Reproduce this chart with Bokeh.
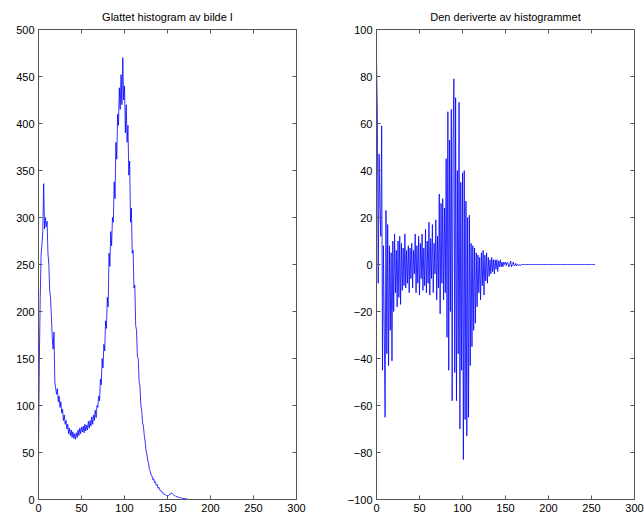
from bokeh.plotting import figure
from bokeh.layouts import row
from bokeh.models import LinearAxis, Range1d, FixedTicker, Title
from bokeh.embed import file_html
from bokeh.resources import INLINE

# ---------------- data ----------------
hist_head = [
    55, 150, 215, 260, 272, 285, 336, 288, 300, 290,
    296, 262, 250, 222, 215, 195, 172, 160, 178, 125,
    118, 112, 118, 104, 110, 98, 104, 92, 96, 84,
    90, 80, 84, 75, 80, 70, 76, 68, 74, 66,
    72, 65, 70, 64, 71, 66, 74, 68, 76, 70,
    77, 72, 78, 71, 80, 73, 79, 74, 83, 76,
    84, 78, 88, 80, 90, 84, 95, 87, 100, 98,
    110, 105, 128, 122, 150, 140, 165, 158, 190, 182,
    215, 205, 262, 248, 285, 270, 300, 295, 338, 320,
    380, 362, 410, 398, 438, 415, 452, 420, 470, 425,
    440, 390, 420, 380, 398, 345, 360, 295, 310, 262,
    265, 225, 228, 185, 180, 152, 150, 125, 120, 100,
    95, 82, 78, 68, 62, 52, 48, 42, 38, 32,
    30, 26, 25, 21, 22, 18, 19, 15, 16, 12,
    13, 10, 10, 8, 8, 6, 6, 5, 5, 4,
    4, 4, 5, 6, 6, 7, 6, 5, 4, 4,
    3, 3, 3, 2, 2, 2, 2, 1, 1, 1,
    1, 1, 0.5, 0.5, 0, 0,
]
hist_values = hist_head + [0] * (256 - len(hist_head))
hist_x = list(range(256))

deriv_head = [
    87, 64, -8, 47, 25, 12, 59, -45, 8, -26,
    -65, 23, -38, 17, -43, 8, -28, 5, -41, 10,
    -20, 13, -12, 6, -18, 10, -14, 12, -17, 9,
    -11, 7, -9, 13, -10, 6, -8, 8, -12, 7,
    -6, 9, -10, 6, -4, 13, -12, 8, -8, 12,
    -13, 9, -6, 13, -11, 7, -9, 15, -12, 10,
    -8, 18, -13, 11, -6, 17, -12, 9, -4, 19,
    -15, 12, -10, 30, -21, 26, -8, 28, -15, 24,
    -12, 45, -31, 65, -45, 53, -20, 66, -58, 52,
    79, -46, 71, -58, 40, -38, 69, -70, 35, -45,
    39, -83, 40, -66, 27, -73, 20, -65, 21, -43,
    9, -35, 8, -28, 7, -25, 5, -18, 4, -12,
    3, -15, 5, -9, 6, -13, 4, -7, 5, -8,
    3, -5, 2, -4, 3, -3, 2, -4, 2, -2,
    2, -3, 1.5, -1, 2, -1, 1, -1, 1, 0,
    1, -0.5, 1, 0.5, -1, 0, 1.5, -1, 0, 1,
    -0.5, -0.5, 0.5, -0.5, 0, -0.5, 0, -0.5,
]
deriv_values = deriv_head + [0] * (255 - len(deriv_head))
deriv_x = list(range(255))

x_ticks = [0, 50, 100, 150, 200, 250, 300]
hist_y_ticks = [0, 50, 100, 150, 200, 250, 300, 350, 400, 450, 500]
deriv_y_ticks = [-100, -80, -60, -40, -20, 0, 20, 40, 60, 80, 100]

title_left = "Glattet histogram av bilde I"
title_right = "Den deriverte av histogrammet"

FONT = "Liberation Sans"
AXIS_COLOR = "#555555"


def style_axis(ax, ticks, show_labels=True):
    ax.ticker = FixedTicker(ticks=ticks)
    ax.axis_line_color = AXIS_COLOR
    ax.major_tick_line_color = AXIS_COLOR
    ax.major_tick_in = 4
    ax.major_tick_out = 0
    ax.minor_tick_line_color = None
    ax.major_label_text_font = FONT
    if show_labels:
        ax.major_label_text_color = "black"
        ax.major_label_text_font_size = "11px"
        ax.major_label_standoff = 4
    else:
        ax.major_label_text_color = None
        ax.major_label_text_font_size = "0px"
        ax.major_label_standoff = 0


def make(title, xs, ys, ymin, ymax, yticks, left_border, right_border):
    p = figure(
        frame_width=258, frame_height=470,
        x_range=Range1d(0, 300), y_range=Range1d(ymin, ymax),
        output_backend="svg", toolbar_location=None,
        min_border_left=left_border, min_border_right=right_border,
        min_border_top=29, min_border_bottom=20,
        title=None,
    )
    p.grid.visible = False
    p.outline_line_color = AXIS_COLOR
    p.background_fill_color = "white"
    p.border_fill_color = "white"
    style_axis(p.xaxis[0], x_ticks)
    style_axis(p.yaxis[0], yticks)
    top = LinearAxis()
    style_axis(top, x_ticks, show_labels=False)
    p.add_layout(top, "above")
    right = LinearAxis()
    style_axis(right, yticks, show_labels=False)
    p.add_layout(right, "right")
    p.add_layout(Title(text=title, align="center",
                       text_font=FONT, text_font_size="11px",
                       text_font_style="normal", text_color="black",
                       standoff=14), "above")
    p.line(xs, ys, line_color="#0000ff", line_width=0.8)
    return p


p1 = make(title_left, hist_x, hist_values, 0, 500, hist_y_ticks, 38, 20)
p2 = make(title_right, deriv_x, deriv_values, -100, 100, deriv_y_ticks, 60, 10)

layout = row(p1, p2)
open("out.html", "w").write(file_html(layout, INLINE))
